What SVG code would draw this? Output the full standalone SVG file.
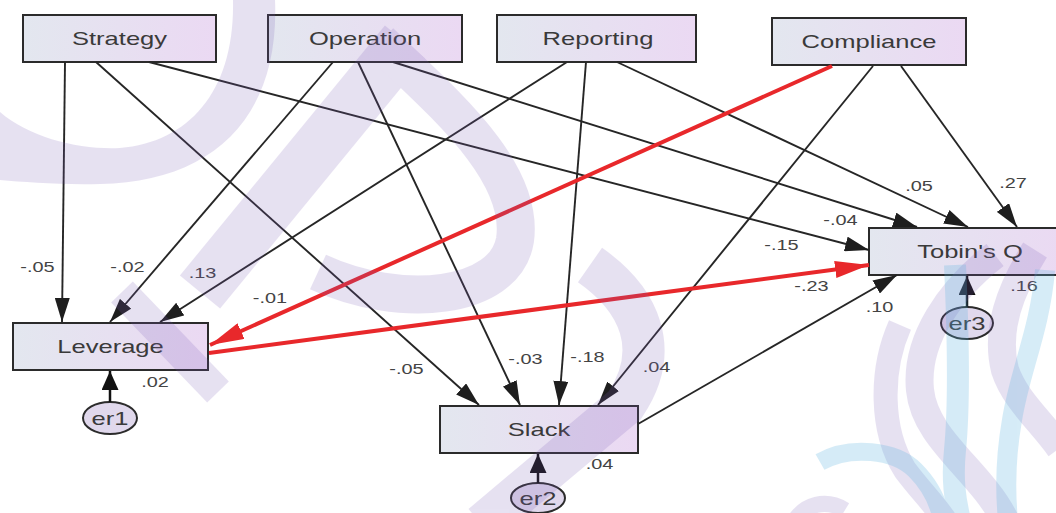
<svg xmlns="http://www.w3.org/2000/svg" width="1056" height="513" viewBox="0 0 1056 513">
  <defs>
    <linearGradient id="boxFill" x1="0" y1="0" x2="1" y2="0">
      <stop offset="0" stop-color="#e3e7ef"/>
      <stop offset="1" stop-color="#ebd9f3"/>
    </linearGradient>
    <marker id="arrow" markerUnits="userSpaceOnUse" markerWidth="24" markerHeight="15" refX="24" refY="7.5" orient="auto">
      <path d="M0,0 L24,7.5 L0,15 Z" fill="#1e1e1e"/>
    </marker>
    <marker id="arrowRed" markerUnits="userSpaceOnUse" markerWidth="34" markerHeight="17" refX="34" refY="8.5" orient="auto">
      <path d="M0,0 L34,8.5 L0,17 Z" fill="#e8282b"/>
    </marker>
    <marker id="arrowErr" markerUnits="userSpaceOnUse" markerWidth="19" markerHeight="17" refX="19" refY="8.5" orient="auto">
      <path d="M0,0 L19,8.5 L0,17 Z" fill="#111"/>
    </marker>
    <style>
      .box { fill: url(#boxFill); stroke: #2b2b2b; stroke-width: 2; }
      .err { fill: #e0d8ec; stroke: #2b2b2b; stroke-width: 2; }
      .name { font-family: "Liberation Sans", Arial, sans-serif; font-size: 18px; fill: #3a3a3a; text-anchor: middle; }
      .coef { font-family: "Liberation Sans", Arial, sans-serif; font-size: 14px; fill: #444; text-anchor: middle; }
      .path { fill: none; stroke: #262626; stroke-width: 1.9; marker-end: url(#arrow); }
      .red { stroke: #e8282b; stroke-width: 4; marker-end: url(#arrowRed); }
      .eline { fill: none; stroke: #111; stroke-width: 2.5; marker-end: url(#arrowErr); }
      .wm { fill: none; stroke: #7b5cb8; }
      .wmb { fill: none; stroke: #5ab4e0; }
    </style>
  </defs>

  <rect width="1056" height="513" fill="#ffffff"/>

  <!-- latent error terms -->
  <g id="er1"><ellipse class="err" cx="110" cy="418" rx="27" ry="16"/><text class="name" transform="translate(110 424.5) scale(1.42 1)">er1</text></g>
  <g id="er2"><ellipse class="err" cx="538" cy="498" rx="27" ry="15"/><text class="name" transform="translate(538 504.5) scale(1.42 1)">er2</text></g>
  <g id="er3"><ellipse class="err" cx="967" cy="323" rx="26" ry="16"/><text class="name" transform="translate(967 329.5) scale(1.42 1)">er3</text></g>

  <!-- observed variables -->
  <g id="strategy"><rect class="box" x="23" y="15" width="193" height="47"/><text class="name" transform="translate(119.5 45) scale(1.42 1)">Strategy</text></g>
  <g id="operation"><rect class="box" x="268" y="15" width="194" height="47"/><text class="name" transform="translate(365 45) scale(1.42 1)">Operation</text></g>
  <g id="reporting"><rect class="box" x="497" y="15" width="199" height="47"/><text class="name" transform="translate(598 45) scale(1.42 1)">Reporting</text></g>
  <g id="compliance"><rect class="box" x="772" y="18" width="194" height="47"/><text class="name" transform="translate(869 48) scale(1.42 1)">Compliance</text></g>
  <g id="leverage"><rect class="box" x="13" y="323" width="195" height="47"/><text class="name" transform="translate(110.5 352.5) scale(1.42 1)">Leverage</text></g>
  <g id="slack"><rect class="box" x="440" y="406" width="198" height="47"/><text class="name" transform="translate(539 435.5) scale(1.42 1)">Slack</text></g>
  <g id="tobinsq"><rect class="box" x="869" y="228" width="203" height="47"/><text class="name" transform="translate(970 257.5) scale(1.42 1)">Tobin's Q</text></g>

  <!-- structural paths -->
  <g id="connectors">
    <line class="path" x1="65" y1="62" x2="62" y2="322"/>
    <line class="path" x1="96" y1="62" x2="479" y2="405"/>
    <line class="path" x1="149" y1="62" x2="869" y2="250"/>
    <line class="path" x1="333" y1="62" x2="110" y2="322"/>
    <line class="path" x1="358" y1="62" x2="520" y2="405"/>
    <line class="path" x1="393" y1="62" x2="917" y2="227"/>
    <line class="path" x1="567" y1="62" x2="160" y2="322"/>
    <line class="path" x1="586" y1="62" x2="559" y2="405"/>
    <line class="path" x1="617" y1="62" x2="968" y2="227"/>
    <line class="path" x1="873" y1="66" x2="598" y2="405"/>
    <line class="path" x1="901" y1="66" x2="1017" y2="227"/>
    <line class="path" x1="638" y1="424" x2="897" y2="275"/>
    <line class="path red" x1="832" y1="66" x2="210" y2="345"/>
    <line class="path red" x1="209" y1="353" x2="869" y2="265"/>
    <line class="eline" x1="110" y1="402" x2="110" y2="371"/>
    <line class="eline" x1="538" y1="483" x2="538" y2="454"/>
    <line class="eline" x1="967" y1="307" x2="967" y2="276"/>
  </g>

  <!-- path coefficients and squared multiple correlations -->
  <g id="coefficients">
    <text class="coef" transform="translate(37.5 272) scale(1.42 1)">-.05</text>
    <text class="coef" transform="translate(127.5 272) scale(1.42 1)">-.02</text>
    <text class="coef" transform="translate(202.5 278) scale(1.42 1)">.13</text>
    <text class="coef" transform="translate(270 303) scale(1.42 1)">-.01</text>
    <text class="coef" transform="translate(155 387) scale(1.42 1)">.02</text>
    <text class="coef" transform="translate(406.5 374) scale(1.42 1)">-.05</text>
    <text class="coef" transform="translate(525.5 364) scale(1.42 1)">-.03</text>
    <text class="coef" transform="translate(587.5 362) scale(1.42 1)">-.18</text>
    <text class="coef" transform="translate(656.5 372) scale(1.42 1)">.04</text>
    <text class="coef" transform="translate(599.5 469) scale(1.42 1)">.04</text>
    <text class="coef" transform="translate(919 191) scale(1.42 1)">.05</text>
    <text class="coef" transform="translate(1013 188) scale(1.42 1)">.27</text>
    <text class="coef" transform="translate(840.5 225) scale(1.42 1)">-.04</text>
    <text class="coef" transform="translate(781.5 250) scale(1.42 1)">-.15</text>
    <text class="coef" transform="translate(811.5 291) scale(1.42 1)">-.23</text>
    <text class="coef" transform="translate(879.5 312) scale(1.42 1)">.10</text>
    <text class="coef" transform="translate(1024 291) scale(1.42 1)">.16</text>
  </g>

  <!-- faint background swirls -->
  <g id="swirls-purple" opacity="0.18">
    <path d="M233 0 L275 0 C280 120 210 182 100 184 C60 185 25 182 0 180 L0 112 C30 138 80 150 120 148 C190 142 235 90 233 0 Z" fill="#7b5cb8"/>
    <path class="wm" stroke-width="52" d="M405 42 L200 292"/>
    <path class="wm" stroke-width="30" d="M122 292 L218 392"/>
    <path class="wm" stroke-width="38" d="M380 42 C440 100 525 170 515 240 C505 300 400 310 318 272"/>
    <path class="wm" stroke-width="42" d="M590 265 C640 300 662 350 625 405 L482 525"/>
    <path class="wm" stroke-width="24" d="M900 325 C880 370 880 430 905 470 C920 490 935 505 945 520"/>
    <path class="wm" stroke-width="28" d="M995 255 C950 290 915 340 920 390 C925 440 980 470 1005 520"/>
    <path class="wm" stroke-width="28" d="M1035 250 C1010 290 995 330 1005 370 C1015 400 1040 420 1060 448"/>
    <path class="wm" stroke-width="16" d="M795 520 C805 505 825 498 845 510"/>
  </g>
  <g id="swirls-blue" opacity="0.25">
    <path class="wmb" stroke-width="22" d="M955 265 C958 330 960 400 955 450 C952 480 955 500 960 520"/>
    <path class="wmb" stroke-width="20" d="M1045 270 C1040 330 1020 370 1012 420 C1005 460 1005 490 1008 520"/>
    <path class="wmb" stroke-width="18" d="M820 462 C850 445 895 450 915 470 C930 485 938 500 942 520"/>
  </g>
</svg>
